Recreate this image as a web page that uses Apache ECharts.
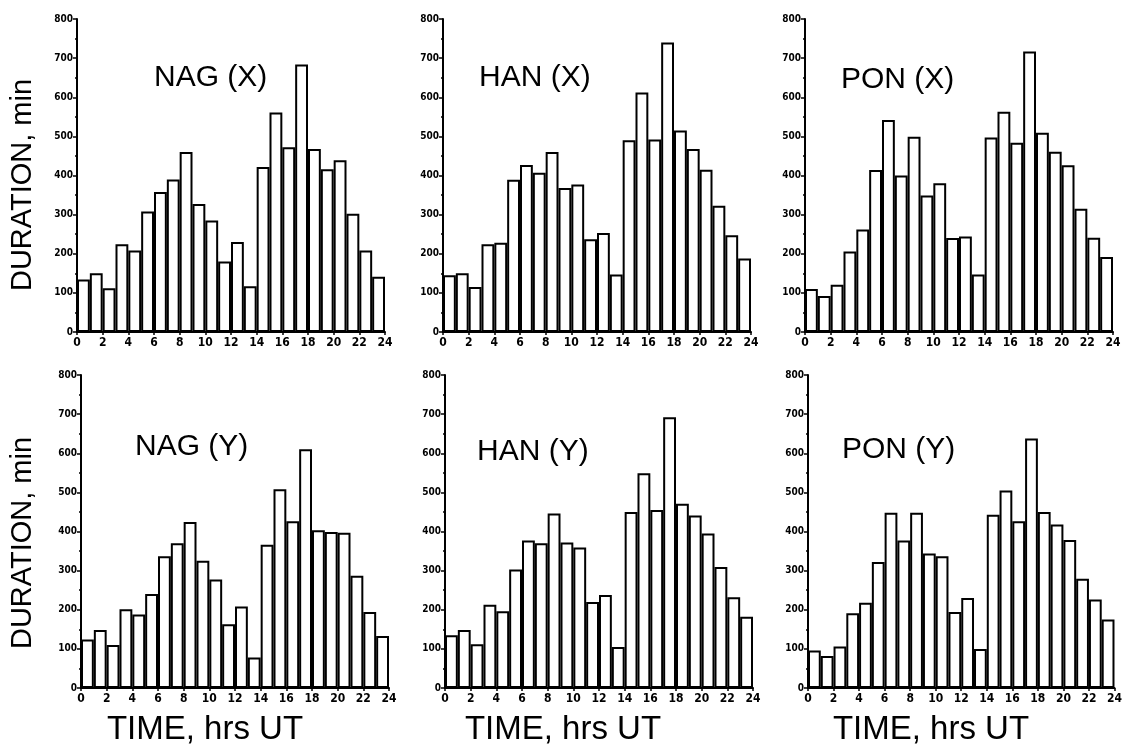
<!DOCTYPE html>
<html>
<head>
<meta charset="utf-8">
<script src="https://cdn.jsdelivr.net/npm/echarts@6/dist/echarts.min.js"></script>
<style>
html,body{margin:0;padding:0;background:#fff;}
#chart{width:1125px;height:751px;}
</style>
</head>
<body>
<div id="chart"></div>
<script>
// ---- data (minutes per UT hour) ----
const hours = ['0','1','2','3','4','5','6','7','8','9','10','11','12','13','14','15','16','17','18','19','20','21','22','23'];
const nagX = [134,150,112,224,208,308,358,390,460,327,285,180,230,117,422,561,472,684,468,416,439,302,208,141];
const hanX = [145,150,115,224,228,389,427,407,460,368,377,237,253,147,490,612,492,740,515,468,415,323,247,188];
const ponX = [110,92,121,206,262,414,542,400,499,349,380,240,244,147,497,563,484,717,509,461,426,315,241,192];
const nagY = [124,148,110,201,188,240,337,370,424,325,277,163,208,78,366,508,426,610,403,399,397,287,194,133];
const hanY = [135,148,112,213,196,303,377,370,446,372,359,220,238,105,450,549,455,692,471,441,395,309,232,182];
const ponY = [96,82,106,191,218,322,448,377,448,344,337,194,230,100,443,505,426,638,450,418,378,279,226,175];
const panelTitles = ['NAG (X)','HAN (X)','PON (X)','NAG (Y)','HAN (Y)','PON (Y)'];
const yAxisTitle = 'DURATION, min';
const xAxisTitle = 'TIME, hrs UT';
const xTickMin = 0, xTickMax = 24, xTickStep = 2;
const yTickMin = 0, yTickMax = 800, yTickStep = 100;

// ---- layout ----
const panels = [
  {data: nagX, left: 77,  top: 19,  tx: 154, ty: 78},
  {data: hanX, left: 443, top: 19,  tx: 479, ty: 78},
  {data: ponX, left: 805, top: 19,  tx: 841, ty: 80},
  {data: nagY, left: 81,  top: 375, tx: 135, ty: 447},
  {data: hanY, left: 445, top: 375, tx: 477, ty: 452},
  {data: ponY, left: 808, top: 375, tx: 842, ty: 450}
];
const W = 308, H = 313;
const tickFont = "'Liberation Sans Narrow','DejaVu Sans Condensed','Liberation Sans',sans-serif";
const textFont = "'Liberation Sans',Arial,sans-serif";

const grid = [], xAxis = [], yAxis = [], series = [], graphic = [];
panels.forEach((p, i) => {
  grid.push({left: p.left, top: p.top, width: W, height: H, containLabel: false});
  xAxis.push({type: 'category', gridIndex: i, data: hours, boundaryGap: true, show: false});
  xAxis.push({
    type: 'value', gridIndex: i, min: xTickMin, max: xTickMax, interval: xTickStep, position: 'bottom',
    axisLine: {show: true, lineStyle: {color: '#000', width: 2}},
    axisTick: {show: true, length: 3, lineStyle: {color: '#000', width: 1.5}},
    axisLabel: {color: '#000', fontSize: 12, fontWeight: 'bold', fontFamily: tickFont, margin: 5},
    splitLine: {show: false}
  });
  yAxis.push({
    type: 'value', gridIndex: i, min: yTickMin, max: yTickMax, interval: yTickStep, offset: 2,
    axisLine: {show: true, lineStyle: {color: '#000', width: 2}},
    axisTick: {show: true, length: 4, lineStyle: {color: '#000', width: 1.5}},
    minorTick: {show: true, splitNumber: 2, length: 2, lineStyle: {color: '#000', width: 1.5}},
    axisLabel: {color: '#000', fontSize: 10, fontWeight: 'bold', fontFamily: tickFont, margin: 2},
    splitLine: {show: false}
  });
  series.push({
    type: 'bar', xAxisIndex: i * 2, yAxisIndex: i, data: p.data,
    barCategoryGap: '0%', barGap: '0%',
    itemStyle: {color: '#fff', borderColor: '#000', borderWidth: 2},
    silent: true, animation: false
  });
  graphic.push({
    type: 'text', x: p.tx, y: p.ty,
    style: {text: panelTitles[i], fill: '#000', font: "30px " + textFont, textAlign: 'left', textVerticalAlign: 'middle'}
  });
});
[185, 543].forEach(cy => {
  graphic.push({
    type: 'text', x: 23, y: cy, rotation: Math.PI / 2,
    style: {text: yAxisTitle, fill: '#000', font: "29px " + textFont, textAlign: 'center', textVerticalAlign: 'middle'}
  });
});
[205, 563, 931].forEach(cx => {
  graphic.push({
    type: 'text', x: cx, y: 730,
    style: {text: xAxisTitle, fill: '#000', font: "33px " + textFont, textAlign: 'center', textVerticalAlign: 'middle'}
  });
});

const chart = echarts.init(document.getElementById('chart'), null, {renderer: 'canvas'});
chart.setOption({
  backgroundColor: '#fff',
  animation: false,
  grid, xAxis, yAxis, series, graphic
});
</script>
</body>
</html>
